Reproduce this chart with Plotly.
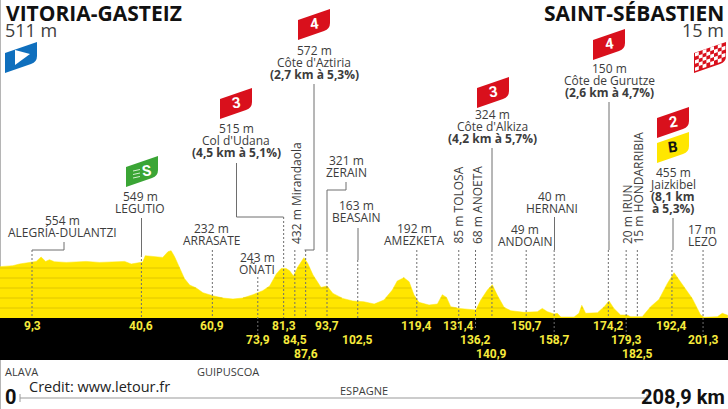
import numpy as np
import plotly.graph_objects as go

# Profil de l'etape (km, altitude en m)
profile_km = [0, 3.8, 5.7, 8.6, 10.5, 11.9, 13.2, 14.3, 15.7, 19.1, 24.8, 28.6, 32.4, 35.8, 37.7, 40.1, 41.0,
              41.7, 43.9, 46.7, 48.2, 49.1, 50.1, 51.5, 52.9, 54.4, 56.3, 58.2, 61.0, 63.9, 66.8, 69.6, 72.5,
              75.3, 77.3, 79.2, 80.6, 82.0, 83.0, 84.1, 85.4, 87.1, 88.2, 89.7, 92.0, 93.7, 95.4, 98.2, 101.1,
              104.2, 107.2, 110.0, 112.4, 113.8, 115.7, 117.2, 118.6, 120.0, 122.9, 125.3, 126.7, 127.9, 129.1,
              131.5, 136.3, 137.7, 139.6, 141.0, 142.4, 144.4, 146.3, 150.1, 153.9, 155.3, 156.8, 158.7, 159.6,
              160.6, 164.4, 165.8, 166.6, 167.7, 171.1, 173.0, 174.4, 175.8, 177.7, 179.6, 180.6, 183.9, 186.3,
              188.7, 191.1, 193.0, 194.9, 198.2, 200.6, 201.6, 205.4, 206.8, 208.4]
profile_m = [513, 523, 540, 560, 566, 610, 566, 583, 563, 556, 566, 556, 560, 566, 540, 553, 560,
             623, 613, 606, 663, 673, 613, 513, 396, 330, 300, 253, 223, 200, 190, 200, 233,
             273, 320, 440, 496, 496, 473, 420, 513, 603, 546, 430, 306, 320, 246, 196, 170,
             163, 140, 180, 280, 370, 403, 363, 230, 157, 130, 140, 233, 206, 113,
             96, 80, 180, 280, 333, 230, 106, 73, 57, 63, 96, 63, 40, 47,
             10, 10, 47, 127, 47, 53, 113, 170, 96, 30, 30, 13, 13, 113,
             186, 346, 453, 363, 196, 30, 7, 13, 47, 27]
grid_levels = [100, 200, 300, 400, 500]

# Points de passage : km, rangee du libelle dans la bande noire
pass_km = [9.3, 40.6, 60.9, 73.9, 81.3, 84.5, 87.6, 93.7, 102.5, 119.4, 131.4, 136.2, 140.9, 150.7, 158.7,
           174.2, 179.3, 182.5, 192.4, 201.3]
pass_label = ['9,3', '40,6', '60,9', '73,9', '81,3', '84,5', '87,6', '93,7', '102,5', '119,4', '131,4', '136,2',
              '140,9', '150,7', '158,7', '174,2', '179,3', '182,5', '192,4', '201,3']
pass_row = [0, 0, 0, 1, 0, 1, 2, 0, 1, 0, 0, 1, 2, 0, 1, 0, 1, 2, 0, 1]

GREY = '#6e6e6e'
TEXT = '#3c3c3c'
YELLOW = '#ffe600'
RED = '#d9101c'
SANS = 'Open Sans'
CONDENSED = 'Roboto'

fig = go.Figure()

fig.add_trace(go.Scatter(x=profile_km, y=profile_m, mode='lines', fill='tozeroy', fillcolor=YELLOW,
                         line=dict(color=YELLOW, width=0.5), hoverinfo='skip'))

# Lignes d'altitude visibles seulement sous le profil
km_fine = np.linspace(0, 208.4, 1500)
m_fine = np.interp(km_fine, profile_km, profile_m)
for level in grid_levels:
    y_level = [level if m >= level else None for m in m_fine]
    fig.add_trace(go.Scatter(x=km_fine, y=y_level, mode='lines', line=dict(color='#d8be00', width=0.8),
                             hoverinfo='skip', connectgaps=False))

# Trace vide pour activer les axes en pixels
fig.add_trace(go.Scatter(x=[None], y=[None], xaxis='x2', yaxis='y2', hoverinfo='skip'))

shapes = []
annotations = []


def text(x, y, s, size=12, color=TEXT, family=SANS, bold=False, anchor='center', angle=0, yanchor='middle'):
    annotations.append(dict(x=x, y=y, xref='x2', yref='y2', text='<b>%s</b>' % s if bold else s, showarrow=False,
                            xanchor=anchor, yanchor=yanchor, textangle=angle, borderpad=0,
                            font=dict(size=size, color=color, family=family)))


def line(x0, y0, x1, y1, dash='solid', color=GREY, width=1, xref='x2', layer='above'):
    shapes.append(dict(type='line', x0=x0, y0=y0, x1=x1, y1=y1, xref=xref, yref='y2', layer=layer,
                       line=dict(color=color, width=width, dash=dash)))


def flag(x0, y_top, color, digit=None, digit_color='white', dx=16):
    # drapeau penche : 32 px de large, 31 px de haut
    x1 = x0 + 32
    path = ('M %g,%g L %g,%g L %g,%g L %g,%g Q %g,%g %g,%g L %g,%g Z'
            % (x0, y_top + 31, x0, y_top + 11, x1, y_top, x1, y_top + 14, x1, y_top + 20, x1 - 6, y_top + 22,
               x0, y_top + 31))
    shapes.append(dict(type='path', path=path, xref='x2', yref='y2', fillcolor=color, line=dict(width=0)))
    if digit:
        text(x0 + dx, y_top + 15, digit, size=15, color=digit_color, family=CONDENSED, bold=True, angle=-8)


# Bande noire et lignes de repere
shapes.append(dict(type='rect', x0=0, x1=1, y0=318, y1=360, xref='paper', yref='y2', fillcolor='black',
                   line=dict(width=0)))
line(0.5, 0, 0.5, 409, color='#b5b5b5', layer='below')

# Reperes : (km, haut pointille, bas pointille)
leaders = [(9.3, 250, 318), (40.6, 255, 318), (60.9, 250, 318), (73.9, 277, 335), (81.3, 217, 318),
           (84.5, 250, 318), (87.6, 250, 318), (93.7, 250, 318), (102.5, 260, 318), (119.4, 250, 318),
           (131.4, 250, 330), (136.2, 250, 330), (140.9, 250, 318), (150.7, 250, 318), (158.7, 250, 335),
           (174.2, 250, 318), (179.3, 250, 335), (182.5, 250, 318), (192.4, 250, 318), (201.3, 250, 335)]
for km, top, bottom in leaders:
    line(km, top, km, bottom, dash='2px,2px', xref='x')

# Parties pleines et coudes
for seg in [(32, 250, 64, 250), (64, 250, 64, 242),
            (141.5, 218, 141.5, 255),
            (236.5, 163, 236.5, 217), (236.5, 217, 283.5, 217),
            (304.5, 250, 314, 250), (314, 84, 314, 250),
            (327, 190, 346, 190), (346, 190, 346, 182), (327, 190, 327, 250),
            (358, 228, 358, 260),
            (492, 148, 492, 250),
            (554.5, 217, 554.5, 250),
            (609, 102, 609, 250),
            (673, 218, 673, 250)]:
    line(*seg)

# Libelles des km dans la bande noire
for km, lab, row in zip(pass_km, pass_label, pass_row):
    annotations.append(dict(x=km, y=326 + row * 14, xref='x', yref='y2', text='<b>%s</b>' % lab, showarrow=False,
                            xanchor='center', yanchor='middle',
                            font=dict(size=12, color='#f6ea3c', family=CONDENSED)))

# Villes de depart et d'arrivee
text(5, 13, 'VITORIA-GASTEIZ', size=21, color='#111111', bold=True, anchor='left')
text(4, 30, '511 m', size=18, anchor='left')
text(725, 13, 'SAINT-SÉBASTIEN', size=21, color='#111111', bold=True, anchor='right')
text(725, 30, '15 m', size=18, anchor='right')

# Libelles horizontaux : x, y de la premiere ligne, lignes, nb de lignes en gras a la fin
labels = [(62, 220, ['554 m', 'ALEGRÍA-DULANTZI'], 0),
          (140, 196, ['549 m', 'LEGUTIO'], 0),
          (211, 228, ['232 m', 'ARRASATE'], 0),
          (257, 257, ['243 m', 'OÑATI'], 0),
          (236, 128, ['515 m', "Col d'Udana", '(4,5 km à 5,1%)'], 1),
          (314, 50, ['572 m', "Côte d'Aztiria", '(2,7 km à 5,3%)'], 1),
          (346, 160, ['321 m', 'ZERAIN'], 0),
          (356, 205, ['163 m', 'BEASAIN'], 0),
          (414, 228, ['192 m', 'AMEZKETA'], 0),
          (492, 114, ['324 m', "Côte d'Alkiza", '(4,2 km à 5,7%)'], 1),
          (525, 229, ['49 m', 'ANDOAIN'], 0),
          (552, 196, ['40 m', 'HERNANI'], 0),
          (609, 68, ['150 m', 'Côte de Gurutze', '(2,6 km à 4,7%)'], 1),
          (673, 172, ['455 m', 'Jaizkibel', '(8,1 km', 'à 5,3%)'], 2),
          (702, 229, ['17 m', 'LEZO'], 0)]
for x, y, lines, n_bold in labels:
    for i, s in enumerate(lines):
        text(x, y + i * 12.2, s, bold=i >= len(lines) - n_bold)

# Libelles verticaux
for x, s in [(296, '432 m Mirandaola'), (458, '85 m TOLOSA'), (477, '68 m ANOETA'),
             (627, '20 m IRUN'), (637.5, '15 m HONDARRIBIA')]:
    text(x, 245, s, angle=-90, yanchor='bottom')

# Drapeaux
flag(5, 42, '#0f6fbd')
shapes.append(dict(type='path', path='M 15,65 L 15,50 L 30,54 Z', xref='x2', yref='y2', fillcolor='white',
                   line=dict(width=0)))
flag(126, 156, '#3aa535', 'S', dx=20)
for i in range(3):
    line(133, 171 + i * 3.5, 140, 169.5 + i * 3.5, color='#d5efd0')
flag(220, 88, RED, '3')
flag(298, 9, RED, '4')
flag(477, 77, RED, '3')
flag(593, 29, RED, '4')
flag(657, 107, RED, '2')
flag(657, 132, YELLOW, 'B', digit_color='#111111')

# Drapeau d'arrivee a damier
flag(694, 42, RED)
cells = []
for col in range(8):
    for row in range(5):
        if (col + row) % 2 == 0:
            cx = 695 + col * 3.8
            cy = 53 - col * 1.35 + row * 3.6
            cells.append('M %g,%g L %g,%g L %g,%g L %g,%g Z' % (cx, cy, cx + 3.8, cy - 1.35, cx + 3.8, cy + 2.25,
                                                              cx, cy + 3.6))
shapes.append(dict(type='path', path=' '.join(cells), xref='x2', yref='y2', fillcolor='white', line=dict(width=0)))

# Bas du graphique
text(4, 371, 'ALAVA', size=11, anchor='left')
text(228, 371, 'GUIPUSCOA', size=11)
text(364, 390, 'ESPAGNE', size=11)
text(28, 386, 'Credit: www.letour.fr', size=14.5, color='#222222', anchor='left')
line(20, 398, 647, 398, color='#9a9a9a', width=1.2)
line(20, 394, 20, 402, color='#9a9a9a')
line(647, 394, 647, 402, color='#9a9a9a')
text(4, 397, '0', size=20, color='#111111', family=CONDENSED, bold=True, anchor='left')
text(726, 397, '208,9 km', size=20, color='#111111', family=CONDENSED, bold=True, anchor='right')

hidden = dict(visible=False, showgrid=False, zeroline=False, fixedrange=True)
fig.update_layout(
    width=728, height=409, autosize=False, showlegend=False,
    margin=dict(l=0, r=0, t=0, b=0),
    paper_bgcolor='white', plot_bgcolor='white',
    xaxis=dict(range=[0.14, 208.44], **hidden),
    yaxis=dict(range=[-910, 3180], **hidden),
    xaxis2=dict(range=[0, 728], overlaying='x', anchor='y2', **hidden),
    yaxis2=dict(range=[409, 0], overlaying='y', anchor='x2', **hidden),
    shapes=shapes, annotations=annotations,
)

# la marge par defaut de la page decale le graphique de 8 px
fig.write_html("out.html", config=dict(displayModeBar=False), post_script="document.body.style.margin='0';")
